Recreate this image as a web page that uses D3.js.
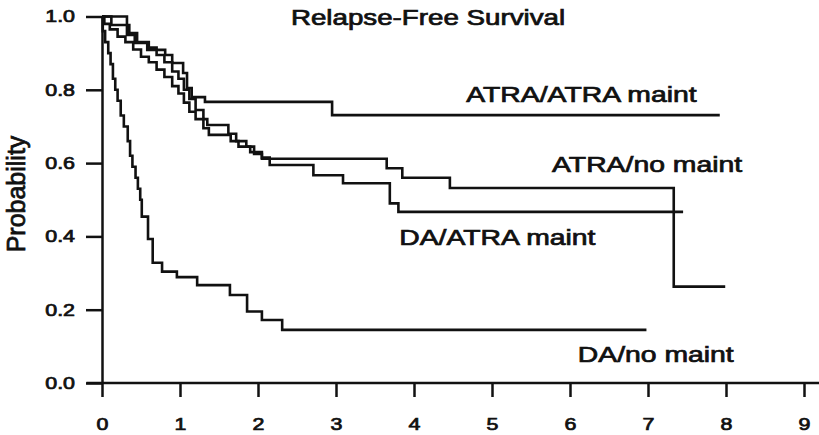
<!DOCTYPE html>
<html>
<head>
<meta charset="utf-8">
<script src="https://cdn.jsdelivr.net/npm/d3@7"></script>
<style>
  body { margin: 0; background: #fff; }
  svg { display: block; font-family: Arial, "Liberation Sans", sans-serif; }
  svg text { stroke: #111; stroke-width: 0.75px; }
</style>
</head>
<body>
<div id="chart"></div>
<script>
// [years, probability] - each point is the level after a step
let atraAtraMaint = [
  [0, 1], [0.32, 0.95], [0.42, 0.928], [0.58, 0.909], [0.81, 0.895], [0.9, 0.873],
  [1.04, 0.846], [1.09, 0.805], [1.15, 0.78], [1.32, 0.767], [2.95, 0.731], [7.92, 0.731]
]

let atraNoMaint = [
  [0, 1], [0.12, 0.977], [0.35, 0.955], [0.45, 0.93], [0.6, 0.915], [0.7, 0.895],
  [0.8, 0.875], [0.9, 0.85], [0.98, 0.83], [1.05, 0.8], [1.12, 0.775], [1.2, 0.745],
  [1.3, 0.72], [1.35, 0.704], [1.62, 0.68], [1.72, 0.66], [1.85, 0.645], [1.95, 0.625],
  [2.05, 0.612], [3.65, 0.586], [3.85, 0.56], [4.46, 0.532], [7.33, 0.263], [7.99, 0.263]
]

let daAtraMaint = [
  [0, 1], [0.03, 0.98], [0.1, 0.965], [0.2, 0.945], [0.3, 0.93], [0.4, 0.91],
  [0.5, 0.89], [0.6, 0.875], [0.7, 0.855], [0.8, 0.835], [0.9, 0.81], [0.98, 0.79],
  [1.05, 0.765], [1.12, 0.74], [1.2, 0.72], [1.3, 0.695], [1.37, 0.677], [1.65, 0.66],
  [1.75, 0.645], [1.9, 0.63], [2.05, 0.615], [2.15, 0.595], [2.71, 0.567], [3.09, 0.545],
  [3.69, 0.49], [3.8, 0.467], [7.45, 0.467]
]

let daNoMaint = [
  [0, 1], [0.01, 0.96], [0.04, 0.93], [0.08, 0.9], [0.11, 0.87], [0.14, 0.83],
  [0.17, 0.8], [0.2, 0.77], [0.24, 0.73], [0.28, 0.7], [0.33, 0.66], [0.36, 0.62],
  [0.39, 0.59], [0.43, 0.56], [0.46, 0.53], [0.49, 0.5], [0.51, 0.454], [0.59, 0.393],
  [0.65, 0.328], [0.77, 0.304], [0.96, 0.289], [1.22, 0.267], [1.64, 0.24], [1.86, 0.195],
  [2.05, 0.172], [2.31, 0.145], [6.98, 0.145]
]

let seriesNames = ['ATRA/ATRA maint', 'ATRA/no maint', 'DA/ATRA maint', 'DA/no maint']
let xTicks = [0, 1, 2, 3, 4, 5, 6, 7, 8, 9]
let yTicks = [0, 0.2, 0.4, 0.6, 0.8, 1.0]

let width = 819
let height = 435
let stretch = 1.26 // the scanned figure is wider than tall

let svg = d3
  .select('#chart')
  .append('svg')
  .attr('width', width)
  .attr('height', height)

let xPositionScale = d3.scaleLinear().domain([0, 9]).range([102, 804])
let yPositionScale = d3.scaleLinear().domain([0, 1]).range([383, 16.5])

let line = d3
  .line()
  .x(d => xPositionScale(d[0]))
  .y(d => yPositionScale(d[1]))
  .curve(d3.curveStepAfter)

// axes
let xAxis = d3
  .axisBottom(xPositionScale)
  .tickValues(xTicks)
  .tickFormat(d3.format('d'))
  .tickSize(14)
  .tickSizeOuter(0)
  .tickPadding(21)

let xg = svg
  .append('g')
  .attr('class', 'axis x-axis')
  .attr('transform', `translate(0,${yPositionScale(0)})`)
  .call(xAxis)
xg.select('.domain').remove()
xg.append('line')
  .attr('x1', xPositionScale(-0.2))
  .attr('x2', width)

let yAxis = d3
  .axisLeft(yPositionScale)
  .tickValues(yTicks)
  .tickFormat(d3.format('.1f'))
  .tickSize(16)
  .tickSizeOuter(0)

let yg = svg
  .append('g')
  .attr('class', 'axis y-axis')
  .attr('transform', `translate(${xPositionScale(0)},0)`)
  .call(yAxis)

svg.selectAll('.axis path, .axis line')
  .attr('stroke', '#111')
  .attr('stroke-width', 2.5)

xg.selectAll('text')
  .attr('font-size', 17)
  .attr('fill', '#111')
  .attr('transform', `scale(${stretch},1)`)

yg.selectAll('text')
  .attr('x', 0)
  .attr('font-size', 17)
  .attr('fill', '#111')
  .attr('transform', `translate(-27,0) scale(${stretch},1)`)

svg.selectAll('.axis text').attr('font-family', 'Arial, "Liberation Sans", sans-serif')

// curves
let allSeries = [atraAtraMaint, atraNoMaint, daAtraMaint, daNoMaint]

svg
  .selectAll('.km')
  .data(allSeries)
  .enter()
  .append('path')
  .attr('class', 'km')
  .attr('d', line)
  .attr('fill', 'none')
  .attr('stroke', '#111')
  .attr('stroke-width', 2.6)

// curve labels, anchored in data space
let labelAt = [[4.67, 0.767], [5.77, 0.576], [3.81, 0.377], [6.1, 0.057]]

svg
  .selectAll('.label')
  .data(seriesNames)
  .enter()
  .append('text')
  .attr('class', 'label')
  .text(d => d)
  .attr('font-size', 22.5)
  .attr('fill', '#111')
  .attr('transform', (d, i) => {
    let p = labelAt[i]
    return `translate(${xPositionScale(p[0])},${yPositionScale(p[1])}) scale(${stretch},1)`
  })

svg
  .append('text')
  .text('Relapse-Free Survival')
  .attr('font-size', 22)
  .attr('fill', '#111')
  .attr('text-anchor', 'middle')
  .attr('transform', `translate(428,25) scale(${stretch},1)`)

svg
  .append('text')
  .text('Probability')
  .attr('font-size', 25)
  .attr('fill', '#111')
  .attr('text-anchor', 'middle')
  .attr('transform', 'translate(25,194) rotate(-90)')
</script>
</body>
</html>
